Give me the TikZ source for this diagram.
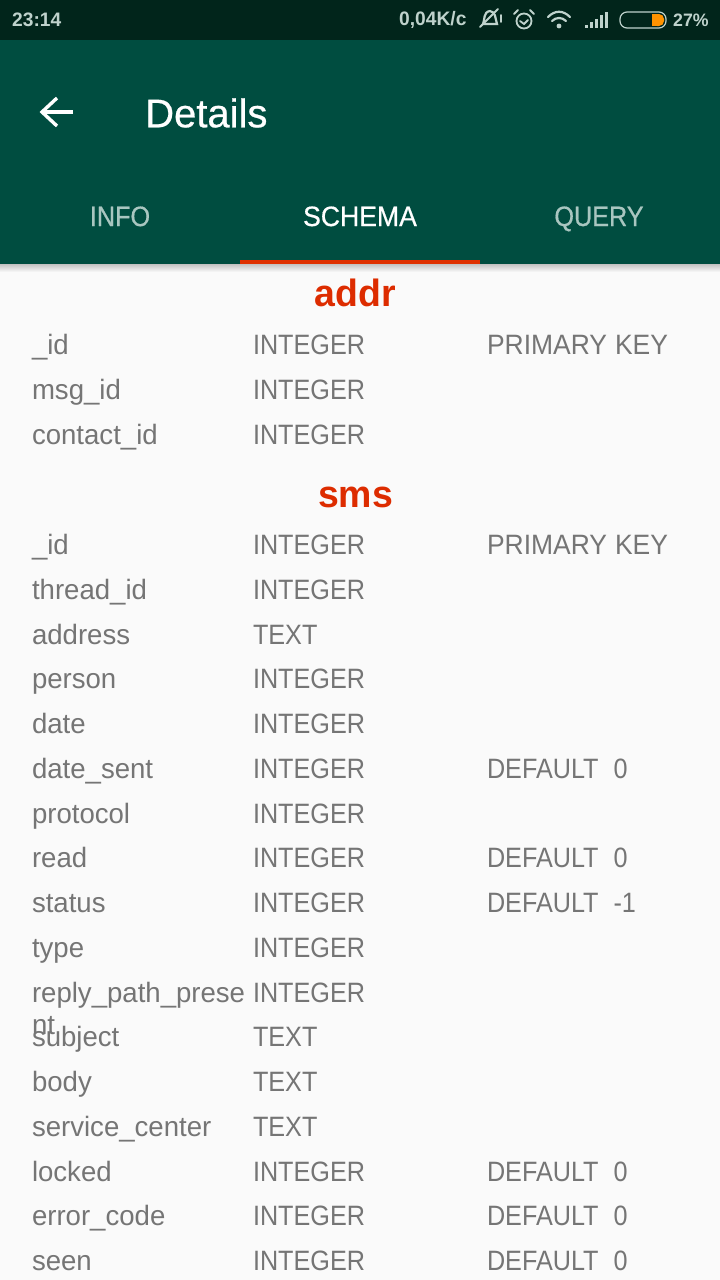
\documentclass[tikz,border=0pt]{standalone}
\usepackage{fontspec}
\usepackage{xcolor}
\setmainfont[FakeStretch=0.985]{Liberation Sans}
\newfontfamily\capsfont[FakeStretch=0.9]{Liberation Sans}
\newfontfamily\primefont[FakeStretch=0.945]{Liberation Sans}
\newfontfamily\medfont[FakeStretch=0.95,FakeBold=0.6]{Liberation Sans}
\newfontfamily\dimfont[FakeStretch=0.9,FakeBold=0.6]{Liberation Sans}
\newfontfamily\headfont[FakeBold=0.6]{Liberation Sans}
\usetikzlibrary{positioning}
\definecolor{bar}{HTML}{01251B}
\definecolor{head}{HTML}{004D40}
\definecolor{hi}{HTML}{DD2C00}
\definecolor{page}{HTML}{FAFAFA}
\definecolor{cell}{HTML}{757575}
\definecolor{dim}{HTML}{A9C6C0}
\definecolor{icon}{HTML}{BFD2CC}
\tikzstyle{namecell} = [text=cell, font=\fontsize{28}{32}\selectfont, inner sep=0pt, align=left, text width=200pt, text height=20pt, text depth=6pt, node distance=44.75pt]
\tikzstyle{typecell} = [namecell, font=\fontsize{28}{32}\selectfont\capsfont, node distance=221pt]
\tikzstyle{keycell} = [typecell, node distance=234pt]
\tikzstyle{title} = [text=hi, font=\fontsize{38}{38}\selectfont\bfseries, inner sep=0pt, anchor=base]
\tikzstyle{tab} = [font=\fontsize{28}{28}\selectfont\dimfont, inner sep=0pt, anchor=base]
\tikzstyle{status} = [text=icon, font=\fontsize{19.5}{19.5}\selectfont\bfseries, inner sep=0pt]
\tikzstyle{glyph} = [draw=icon, line width=1.8pt, line cap=round]

\begin{document}
\begin{tikzpicture}[x=1pt, y=-1pt]
    \useasboundingbox (0,0) rectangle (720,1280);
    \fill [page] (0,0) rectangle (720,1280);
    \shade [top color=black!24, bottom color=page] (0,264) rectangle (720,272);
    \fill [head] (0,40) rectangle (720,264);
    \fill [bar] (0,0) rectangle (720,40);
    \fill [hi!95!orange] (240,260) rectangle (480,264);

    \node [status, anchor=west] (clock) at (12,20) {23:14};
    \node [status, anchor=west] (speed) at (399,20) {0,04K/c};
    \node [status, anchor=west, font=\fontsize{18}{18}\selectfont\bfseries] (level) at (673,20) {27\%};

    \draw [glyph, line width=2.2pt] (483,24) .. controls (485,20) and (483,12) .. (490,11) .. controls (496,12) and (495,18) .. (497,24) -- cycle;
    \draw [glyph] (480,27) -- (498,9);
    \draw [glyph] (501,15) -- (501,22);
    \draw [glyph] (524,21) circle (7.5);
    \draw [glyph] (520,21) -- (524,24) -- (528,20);
    \draw [glyph] (514,14) -- (518,10);
    \draw [glyph] (534,14) -- (530,10);
    \draw [glyph, line width=2.2pt] (548,17) .. controls (555,10) and (563,10) .. (570,17);
    \draw [glyph, line width=2.2pt] (552,21) .. controls (556,17) and (562,17) .. (566,21);
    \fill [icon] (559,26) circle (2.4);
    \fill [icon] (585,25) rectangle (588,28);
    \fill [icon] (590,22) rectangle (593,28);
    \fill [icon] (595,19) rectangle (598,28);
    \fill [icon] (600,15) rectangle (603,28);
    \fill [icon] (605,12) rectangle (608,28);
    \draw [icon, line width=1.2pt, rounded corners=7pt] (620,12) rectangle (666,28);
    \fill [orange!85!yellow, rounded corners=5pt] (652,14) -- (664,14) -- (664,26) -- (652,26) -- cycle;
    \fill [orange!85!yellow] (652,14) rectangle (658,26);

    \draw [white, line width=3.4pt] (73,112) -- (43,112);
    \draw [white, line width=3.4pt] (57,98) -- (42,112) -- (57,126);
    \node [anchor=west, text=white, font=\fontsize{40}{40}\selectfont\headfont, inner sep=0pt] (details) at (145,113) {Details};
    \node [tab, text=dim] (info) at (120,226) {INFO};
    \node [tab, text=white, font=\fontsize{28}{28}\selectfont\medfont] (schema) at (360,226) {SCHEMA};
    \node [tab, text=dim] (query) at (599,226) {QUERY};

    \node [title] (addr) at (355.5,306) {addr};
    \node [namecell] (addrid) at (132,347.5) {\_id};
    \node [namecell, below of=addrid] (addrmsg) {msg\_id};
    \node [namecell, below of=addrmsg] (addrcontact) {contact\_id};
    \node [typecell, right of=addrid] (addridtype) {INTEGER};
    \node [typecell, right of=addrmsg] (addrmsgtype) {INTEGER};
    \node [typecell, right of=addrcontact] (addrcontacttype) {INTEGER};
    \node [keycell, right of=addridtype] (addridkey) {\primefont PRIMARY\hspace{8pt}KEY};

    \node [title] (sms) at (355.5,507) {sms};
    \node [namecell] (smsid) at (132,547.5) {\_id};
    \node [namecell, below of=smsid] (thread) {thread\_id};
    \node [namecell, below of=thread] (address) {address};
    \node [namecell, below of=address] (person) {person};
    \node [namecell, below of=person] (date) {date};
    \node [namecell, below of=date] (datesent) {date\_sent};
    \node [namecell, below of=datesent] (protocol) {protocol};
    \node [namecell, below of=protocol] (read) {read};
    \node [namecell, below of=read] (statusrow) {status};
    \node [namecell, below of=statusrow] (type) {type};
    \node [namecell, below of=type] (reply) {reply\_path\_prese\\nt};
    \node [namecell, below of=reply] (subject) {subject};
    \node [namecell, below of=subject] (body) {body};
    \node [namecell, below of=body] (center) {service\_center};
    \node [namecell, below of=center] (locked) {locked};
    \node [namecell, below of=locked] (error) {error\_code};
    \node [namecell, below of=error] (seen) {seen};

    \node [typecell, right of=smsid] (smsidtype) {INTEGER};
    \node [typecell, right of=thread] (threadtype) {INTEGER};
    \node [typecell, right of=address] (addresstype) {TEXT};
    \node [typecell, right of=person] (persontype) {INTEGER};
    \node [typecell, right of=date] (datetype) {INTEGER};
    \node [typecell, right of=datesent] (datesenttype) {INTEGER};
    \node [typecell, right of=protocol] (protocoltype) {INTEGER};
    \node [typecell, right of=read] (readtype) {INTEGER};
    \node [typecell, right of=statusrow] (statustype) {INTEGER};
    \node [typecell, right of=type] (typetype) {INTEGER};
    \node [typecell, right of=reply] (replytype) {INTEGER};
    \node [typecell, right of=subject] (subjecttype) {TEXT};
    \node [typecell, right of=body] (bodytype) {TEXT};
    \node [typecell, right of=center] (centertype) {TEXT};
    \node [typecell, right of=locked] (lockedtype) {INTEGER};
    \node [typecell, right of=error] (errortype) {INTEGER};
    \node [typecell, right of=seen] (seentype) {INTEGER};

    \node [keycell, right of=smsidtype] (smsidkey) {\primefont PRIMARY\hspace{8pt}KEY};
    \node [keycell, right of=datesenttype] (datesentkey) {DEFAULT\hspace{15pt}0};
    \node [keycell, right of=readtype] (readkey) {DEFAULT\hspace{15pt}0};
    \node [keycell, right of=statustype] (statuskey) {DEFAULT\hspace{15pt}-1};
    \node [keycell, right of=lockedtype] (lockedkey) {DEFAULT\hspace{15pt}0};
    \node [keycell, right of=errortype] (errorkey) {DEFAULT\hspace{15pt}0};
    \node [keycell, right of=seentype] (seenkey) {DEFAULT\hspace{15pt}0};
\end{tikzpicture}
\end{document}
